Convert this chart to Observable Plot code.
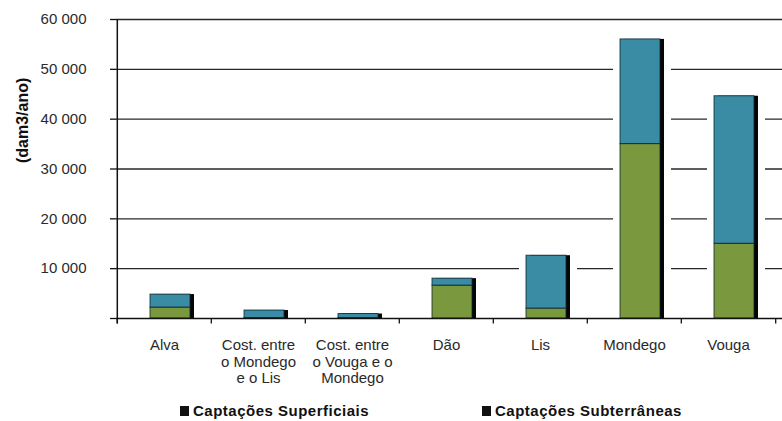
<!DOCTYPE html>
<html>
<head>
<meta charset="utf-8">
<script src="https://cdn.jsdelivr.net/npm/d3@7"></script>
<script src="https://cdn.jsdelivr.net/npm/@observablehq/plot@0.6"></script>
<style>
  body { margin: 0; background: #fff; font-family: "Liberation Sans", Arial, sans-serif; }
  #wrap { position: relative; width: 782px; height: 421px; overflow: hidden; }
  #legend { position: absolute; left: 0; top: 0; width: 782px; height: 421px; pointer-events: none; }
  .item { position: absolute; top: 402px; font-size: 15px; font-weight: bold; color: #111; white-space: nowrap; letter-spacing: 0.5px; }
  .sw { display: inline-block; width: 9px; height: 10px; background: #111; margin-right: 4px; vertical-align: 0px; }
</style>
</head>
<body>
<div id="wrap"><div id="chart"></div>
<div id="legend">
  <div class="item" style="left:180px"><span class="sw"></span>Captações Superficiais</div>
  <div class="item" style="left:482px"><span class="sw"></span>Captações Subterrâneas</div>
</div></div>
<script>
const categories = ["Alva", "Cost. entre o Mondego e o Lis", "Cost. entre o Vouga e o Mondego", "Dão", "Lis", "Mondego", "Vouga"];
const tickLabels = ["Alva", "Cost. entre\no Mondego\ne o Lis", "Cost. entre\no Vouga e o\nMondego", "Dão", "Lis", "Mondego", "Vouga"];
const seriesNames = ["Captações Superficiais", "Captações Subterrâneas"];
const superficiais = [2200, 100, 100, 6600, 2000, 35000, 15000];
const subterraneas = [2600, 1500, 800, 1400, 10600, 21000, 29600];
const yTicks = [0, 10000, 20000, 30000, 40000, 50000, 60000];

const rows = [];
categories.forEach((c, i) => {
  rows.push({cat: c, type: seriesNames[0], value: superficiais[i]});
  rows.push({cat: c, type: seriesNames[1], value: subterraneas[i]});
});
const totals = categories.map((c, i) => ({cat: c, total: superficiais[i] + subterraneas[i]}));
const labelOf = new Map(categories.map((c, i) => [c, tickLabels[i]]));
const fmt = d => d === 0 ? "" : d3.format(",")(d).replace(/,/g, " ");

const chart = Plot.plot({
  width: 782,
  height: 395,
  marginTop: 19,
  marginBottom: 77,
  marginLeft: 116,
  marginRight: 0,
  style: {fontFamily: "'Liberation Sans', Arial, sans-serif", fontSize: "15px", color: "#2a2a2a", background: "white"},
  x: {domain: categories, range: [116, 777], paddingInner: 0.57, paddingOuter: 0.285},
  y: {domain: [0, 60000]},
  color: {domain: seriesNames, range: ["#7a983e", "#3a8ba4"]},
  marks: [
    Plot.gridY(yTicks.filter(d => d > 0), {stroke: "#111", strokeOpacity: 0.9, strokeWidth: 1.3}),
    Plot.barY(totals, {x: "cat", y: "total", fill: "white", dx: 6, insetLeft: -7, insetRight: -11, insetTop: -2}),
    Plot.barY(totals, {x: "cat", y: "total", fill: "#050505", dx: 10}),
    Plot.barY(rows, {x: "cat", y: "value", fill: "type", dx: 6, stroke: "#0d2530", strokeWidth: 1, strokeOpacity: 0.8}),
    Plot.ruleX(categories, {x: d => d, dx: -47.2, y1: 0, y2: -1100, stroke: "#111", strokeWidth: 1.3}),
    Plot.ruleX([categories[categories.length - 1]], {x: d => d, dx: 47.2, y1: 0, y2: -1100, stroke: "#111", strokeWidth: 1.3}),
    Plot.ruleX([categories[0]], {x: d => d, dx: -47.2, y1: -1100, y2: 60000, stroke: "#111", strokeWidth: 1.5}),
    Plot.ruleY([0], {stroke: "#111", strokeWidth: 1.5}),
    Plot.axisY({ticks: yTicks, tickFormat: fmt, tickSize: 6, tickPadding: 24, label: null, stroke: "#111", strokeWidth: 1.3, fill: "#2a2a2a"}),
    Plot.axisX({tickSize: 0, tickPadding: 20, tickFormat: d => labelOf.get(d), label: null, lineHeight: 1.1, fill: "#2a2a2a"}),
    Plot.text(["(dam3/ano)"], {frameAnchor: "left", rotate: -90, dx: -94, dy: -6, fontWeight: "bold", fontSize: 16, fill: "#111"})
  ]
});
document.getElementById("chart").appendChild(chart);
</script>
</body>
</html>
